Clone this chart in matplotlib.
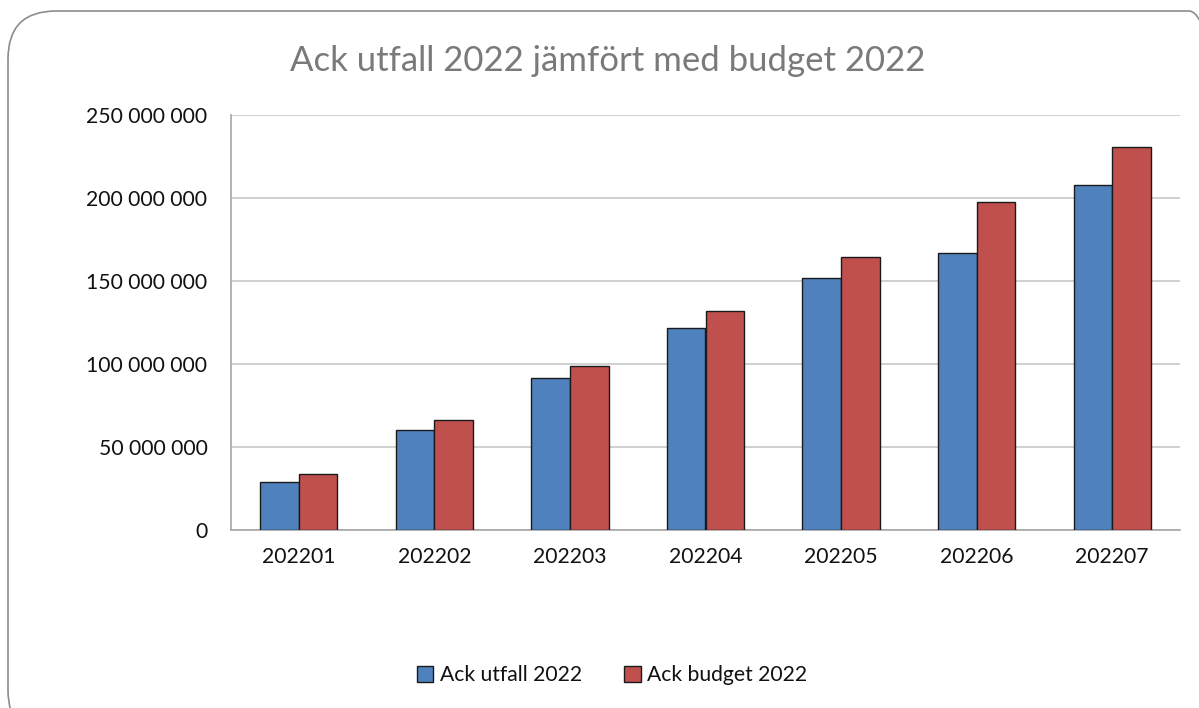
import matplotlib
matplotlib.use("Agg")
import matplotlib.pyplot as plt
import numpy as np
from matplotlib.patches import FancyBboxPatch
from matplotlib.ticker import FuncFormatter

categories = ["202201", "202202", "202203", "202204", "202205", "202206", "202207"]
utfall = [28.8e6, 60.1e6, 91.5e6, 121.8e6, 152.0e6, 167.0e6, 207.7e6]
budget = [33.7e6, 66.1e6, 98.6e6, 132.2e6, 164.7e6, 197.3e6, 230.7e6]
series_names = ["Ack utfall 2022", "Ack budget 2022"]
title = "Ack utfall 2022 jämfört med budget 2022"

plt.rcParams['font.family'] = ['Lato', 'DejaVu Sans']

W, H = 1199, 708
fig = plt.figure(figsize=(W/100, H/100), dpi=100)

# outer rounded border
border = FancyBboxPatch((8/W, -30/H), (W+30)/W, (H-11+30)/H,
                        boxstyle="round,pad=0,rounding_size=0.04",
                        transform=fig.transFigure, fill=False,
                        edgecolor="#8c8c8c", linewidth=1.2,
                        mutation_aspect=W/H)
fig.patches.append(border)

left, right, top, bottom = 231, 1180, 115, 530
ax = fig.add_axes([left/W, 1-bottom/H, (right-left)/W, (bottom-top)/H])

x = np.arange(len(categories))
bw = 0.285
ax.bar(x - bw/2, utfall, bw, color="#4F81BD", edgecolor="#1a1a1a", linewidth=1.0, label=series_names[0], zorder=3)
ax.bar(x + bw/2, budget, bw, color="#C0504D", edgecolor="#1a1a1a", linewidth=1.0, label=series_names[1], zorder=3)

ax.set_xlim(-0.5, len(categories) - 0.5)
ax.set_ylim(0, 250e6)
ax.set_yticks(np.arange(0, 250e6 + 1, 50e6))
ax.yaxis.set_major_formatter(FuncFormatter(lambda v, p: "{:,.0f}".format(v).replace(",", " ")))
ax.set_xticks(x)
ax.set_xticklabels(categories)
ax.grid(axis='y', color="#c8c8c8", linewidth=1.2, zorder=0)
for s in ["top", "right"]:
    ax.spines[s].set_visible(False)
ax.spines["left"].set_color("#a6a6a6")
ax.spines["bottom"].set_color("#a6a6a6")
ax.spines["left"].set_linewidth(1.2)
ax.spines["bottom"].set_linewidth(1.2)
ax.tick_params(axis='both', length=0, labelsize=15.2, colors="#111111")
ax.tick_params(axis='y', pad=17)
ax.tick_params(axis='x', pad=12)

fig.text(608/W, 1-61/H, title, ha="center", va="center", fontsize=25, color="#7a7a7a")

leg = fig.legend(loc="center", bbox_to_anchor=(612/W, 1-675/H), ncol=2, frameon=False,
                 fontsize=15.2, handlelength=0.8, handleheight=0.8, handletextpad=0.3,
                 columnspacing=2.0)
for t in leg.get_texts():
    t.set_color("#111111")

fig.savefig("out.png", dpi=100)
